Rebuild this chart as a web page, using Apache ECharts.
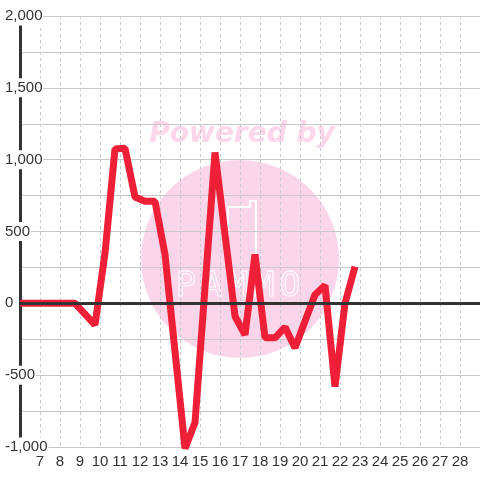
<!DOCTYPE html>
<html>
<head>
<meta charset="utf-8">
<script src="https://cdn.jsdelivr.net/npm/echarts@6/dist/echarts.min.js"></script>
<style>
  html, body { margin: 0; padding: 0; background: #fff; }
  #chart-container { width: 480px; height: 480px; }
</style>
</head>
<body>
<div id="chart-container"></div>
<script>
var xValues = [6, 8.75, 9.75, 10.25, 10.75, 11.25, 11.75, 12.25, 12.75, 13.25, 13.75, 14.25, 14.75,
  15.25, 15.75, 16.25, 16.75, 17.25, 17.75, 18.25, 18.75, 19.25, 19.75, 20.25, 20.75, 21.25,
  21.75, 22.25, 22.75];
var yValues = [0, 0, -150, 350, 1075, 1080, 740, 710, 710, 340, -335, -1010, -830,
  110, 1050, 480, -90, -220, 340, -240, -240, -165, -310, -125, 60, 125,
  -580, 0, 255];
var xMin = 6, xMax = 29;
var yMin = -1000, yMax = 2000;

var dom = document.getElementById('chart-container');
var myChart = echarts.init(dom, null, { renderer: 'canvas' });

var points = xValues.map(function (x, i) { return [x, yValues[i]]; });
var logoLetters = ['P', 'A', 'M', 'M', 'O'];

var option = {
  animation: false,
  backgroundColor: '#fff',
  grid: { left: 20, right: 0, top: 16, bottom: 33 },
  graphic: [
    { type: 'circle', z: -10, shape: { cx: 240, cy: 259, r: 99 }, style: { fill: '#fbd6eb' } },
    {
      type: 'text', z: -10, x: 242, y: 135,
      style: {
        text: 'Powered by', fill: '#fcd6ea', align: 'center', verticalAlign: 'middle',
        font: 'italic bold 28px "DejaVu Sans"'
      }
    },
    {
      type: 'polyline', z: -9,
      shape: { points: [[228, 258], [228, 207], [250, 207], [250, 201], [256, 201], [256, 258]] },
      style: { fill: null, stroke: '#fff', lineWidth: 2 }
    }
  ].concat(logoLetters.map(function (ch, i) {
    return {
      type: 'text', z: -9, x: 186 + i * 26, y: 287,
      style: {
        text: ch, fill: 'none', stroke: '#fff', lineWidth: 1, align: 'center',
        verticalAlign: 'middle', font: '34px "DejaVu Sans Mono"'
      }
    };
  })),
  xAxis: {
    type: 'value',
    min: xMin,
    max: xMax,
    interval: 1,
    axisLine: { show: false },
    axisTick: { show: false },
    axisLabel: {
      showMinLabel: false,
      showMaxLabel: false,
      margin: 7,
      fontSize: 15,
      color: '#333',
      fontFamily: 'Liberation Sans'
    },
    splitLine: { show: true, lineStyle: { color: '#c8c8c8', type: [3, 3], width: 1 } }
  },
  yAxis: {
    type: 'value',
    min: yMin,
    max: yMax,
    interval: 250,
    axisLine: { show: true, onZero: false, lineStyle: { color: '#333', width: 3 } },
    axisTick: { show: false },
    axisLabel: {
      margin: 16,
      align: 'left',
      fontSize: 15,
      color: '#333',
      fontFamily: 'Liberation Sans',
      backgroundColor: '#fff',
      padding: [2, 1],
      formatter: function (v) {
        if (v % 500 !== 0) return '';
        return v.toLocaleString('en-US');
      }
    },
    splitLine: { show: true, lineStyle: { color: '#c8c8c8', width: 1 } }
  },
  series: [
    {
      type: 'line',
      z: 1,
      data: [],
      markLine: {
        silent: true,
        symbol: 'none',
        label: { show: false },
        lineStyle: { color: '#333', width: 3, type: 'solid' },
        data: [{ yAxis: 0 }]
      }
    },
    {
      type: 'line',
      z: 3,
      data: points,
      showSymbol: false,
      lineStyle: { color: '#ee1f36', width: 7 },
      itemStyle: { color: '#ee1f36' }
    }
  ]
};

myChart.setOption(option);
window.addEventListener('resize', myChart.resize);
</script>
</body>
</html>
